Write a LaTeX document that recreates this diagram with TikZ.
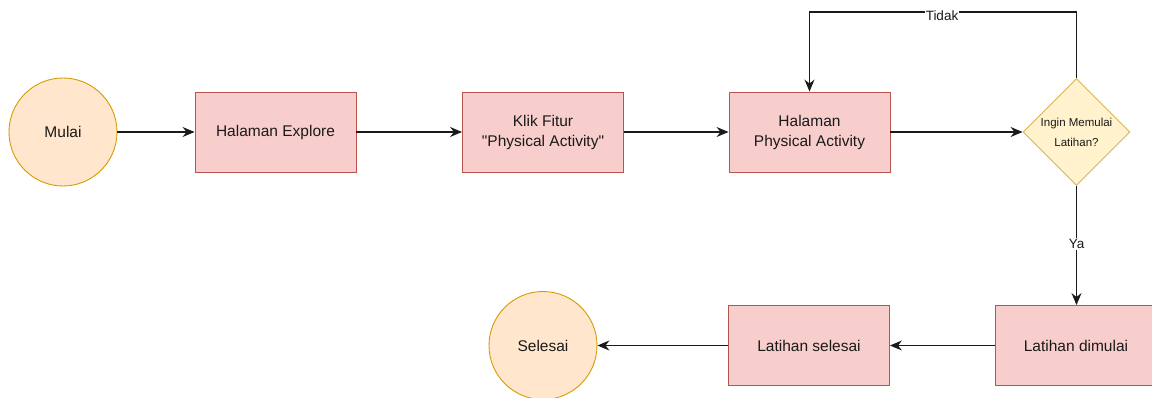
\documentclass[tikz,border=0pt]{standalone}
\usepackage{fontspec}
\setmainfont{Liberation Sans}
\usetikzlibrary{shapes.geometric,arrows.meta}
\definecolor{boxfill}{HTML}{F8CECC}
\definecolor{boxline}{HTML}{B85450}
\definecolor{termfill}{HTML}{FFE6CC}
\definecolor{termline}{HTML}{D79B00}
\definecolor{decfill}{HTML}{FFF2CC}
\definecolor{decline}{HTML}{D6B656}
\definecolor{ink}{HTML}{1A1A1A}
\tikzset{
  base/.style={font=\fontsize{15.5}{20}\selectfont, text=ink, align=center, inner sep=0pt, line width=0.9pt},
  stepbox/.style={base, rectangle, draw=boxline, fill=boxfill, minimum width=161pt, minimum height=80pt},
  terminal/.style={base, circle, draw=termline, fill=termfill, minimum size=108pt},
  decision/.style={base, diamond, draw=decline, fill=decfill, minimum width=107pt, minimum height=107pt, aspect=1},
  flow/.style={line width=1.2pt, draw=ink, -{Stealth[length=12pt,width=10pt,inset=4pt]}},
  edgelabel/.style={font=\fontsize{13.5}{16}\selectfont, text=ink, fill=white, inner sep=1pt}
}
\begin{document}
\begin{tikzpicture}[x=1pt,y=-1pt]
  \useasboundingbox (0,0) rectangle (1152,398);
  \clip (0,0) rectangle (1152,398);

  % top row
  \node[terminal] (mulai) at (63,132) {Mulai};
  \node[stepbox] (explore) at (275.5,132) {Halaman Explore};
  \node[stepbox] (klik) at (543,132) {Klik Fitur\\\textquotedbl Physical Activity\textquotedbl};
  \node[stepbox] (hpa) at (809.5,132) {Halaman\\Physical Activity};
  \node[decision] (dec) at (1076.5,132) {};
  \node[font=\fontsize{11.5}{20}\selectfont, text=ink, align=center] (q) at (dec.center)
    {Ingin Memulai\\Latihan?};

  % bottom row
  \node[stepbox] (dimulai) at (1076,345.5) {Latihan dimulai};
  \node[stepbox] (lselesai) at (809,345.5) {Latihan selesai};
  \node[terminal] (selesai) at (543,345.5) {Selesai};

  % loop corner above the decision
  \coordinate (loopR) at (1076.5,12);
  \coordinate (loopL) at (809.5,12);

  % connectors
  \draw[flow] (mulai) -- (explore);
  \draw[flow] (explore) -- (klik);
  \draw[flow] (klik) -- (hpa);
  \draw[flow] (hpa) -- (dec);
  \draw[flow] (dec.north) -- (loopR) -- (loopL) -- (hpa.north);
  \draw[flow] (dec.south) -- (dimulai.north -| dec.south);
  \draw[flow] (dimulai) -- (lselesai);
  \draw[flow] (lselesai) -- (selesai);

  % branch labels
  \node[edgelabel] (tidak) at (942,16) {Tidak};
  \node[edgelabel] (ya) at (1076.5,244) {Ya};
\end{tikzpicture}
\end{document}
